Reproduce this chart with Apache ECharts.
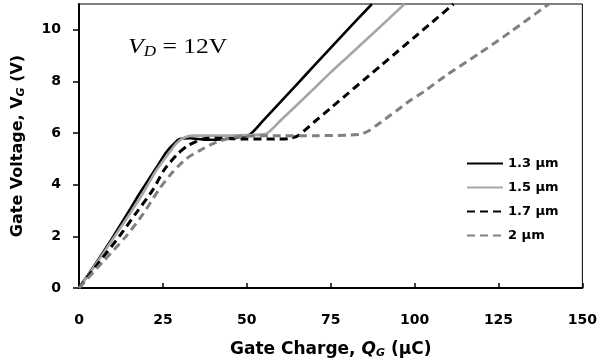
<!DOCTYPE html>
<html><head><meta charset="utf-8">
<script src="https://cdn.jsdelivr.net/npm/echarts@6/dist/echarts.min.js"></script>
<style>html,body{margin:0;padding:0;background:#fff}#c{width:600px;height:364px}</style>
</head><body><div id="c"></div>
<script>
const xTicks = [0, 25, 50, 75, 100, 125, 150];
const yTicks = [0, 2, 4, 6, 8, 10];
const seriesNames = ['1.3 µm', '1.5 µm', '1.7 µm', '2 µm'];
const s13 = [[0,0],[5,0.95],[10,1.95],[15,3.0],[18,3.65],[21,4.25],[23.5,4.75],[26,5.26],[28,5.55],[30,5.77],[33,5.8],[38,5.74],[43,5.76],[48,5.85],[51,5.95],[55,6.5],[60,7.2],[65,7.9],[70,8.6],[75,9.3],[80,10.0],[87.3,11]];
const s15 = [[0,0],[5,0.92],[10,1.88],[15,2.85],[19,3.65],[23,4.55],[27,5.26],[29,5.6],[31.4,5.83],[34,5.9],[40,5.9],[50,5.92],[55.6,5.96],[57.5,6.15],[60,6.48],[65,7.1],[70,7.72],[75,8.35],[80,8.95],[85,9.55],[90,10.15],[97,11]];
const s17 = [[0,0],[6,1.0],[12,2.0],[17,2.9],[22,3.8],[25.5,4.6],[29.4,5.19],[32.4,5.51],[36.9,5.77],[41,5.8],[50,5.77],[60,5.77],[63,5.8],[65.5,5.92],[70,6.42],[75,6.97],[80,7.52],[85,8.07],[90,8.62],[95,9.17],[100,9.72],[105,10.27],[111.6,11]];
const s20 = [[0,0],[7,1.0],[14,2.0],[19,2.85],[24,3.85],[28,4.5],[31.9,5.0],[35.9,5.32],[40.8,5.64],[45.7,5.83],[50,5.88],[60,5.9],[70,5.9],[80,5.92],[84,5.96],[86.5,6.1],[89,6.33],[91.2,6.54],[96.2,7.02],[99.1,7.3],[103,7.63],[109,8.2],[118.9,9.05],[128.8,9.94],[140,11]];

const styles = [
  {color:'#000000', type:'solid', width:2.6},
  {color:'#a6a6a6', type:'solid', width:2.6},
  {color:'#000000', type:[8,5], width:3},
  {color:'#808080', type:[8,5], width:3}
];
const datas = [s13, s15, s17, s20];
const font = 'DejaVu Sans';
const chart = echarts.init(document.getElementById('c'), null, {renderer:'canvas'});
chart.setOption({
  animation:false,
  backgroundColor:'#ffffff',
  grid:{left:79, right:15, top:4, bottom:74, show:true, borderColor:'#000', borderWidth:1, backgroundColor:'transparent'},
  legend:{
    orient:'vertical', left:466, top:157, padding:0, itemWidth:36, itemHeight:14, itemGap:11,
    data:seriesNames,
    itemStyle:{opacity:0},
    textStyle:{fontFamily:font, fontWeight:'bold', fontSize:13, color:'#000'}
  },
  xAxis:{
    type:'value', min:0, max:150, interval:25,
    axisLine:{lineStyle:{color:'#000', width:2}},
    axisTick:{inside:true, length:5, lineStyle:{color:'#000', width:1.5}},
    axisLabel:{margin:25, fontFamily:font, fontWeight:'bold', fontSize:14, color:'#000', customValues:xTicks},
    splitLine:{show:false},
    name:'{n|Gate Charge, }{i|Q}{s|G}{n| (µC)}', nameLocation:'middle', nameGap:52,
    nameTextStyle:{rich:{
      n:{fontFamily:font, fontWeight:'bold', fontSize:17, color:'#000'},
      i:{fontFamily:font, fontWeight:'bold', fontStyle:'italic', fontSize:17, color:'#000'},
      s:{fontFamily:font, fontWeight:'bold', fontStyle:'italic', fontSize:11, color:'#000', verticalAlign:'bottom', padding:[8,0,0,0]}
    }}
  },
  yAxis:{
    type:'value', min:0, max:11, interval:2,
    axisLine:{lineStyle:{color:'#000', width:2}},
    axisTick:{inside:false, length:6, lineStyle:{color:'#000', width:1.5}, customValues:yTicks},
    axisLabel:{margin:18, fontFamily:font, fontWeight:'bold', fontSize:14, color:'#000', customValues:yTicks},
    splitLine:{show:false},
    name:'{n|Gate Voltage, }{i|V}{s|G}{n| (V)}', nameLocation:'middle', nameGap:52, nameRotate:90,
    nameTextStyle:{rich:{
      n:{fontFamily:font, fontWeight:'bold', fontSize:16, color:'#000'},
      i:{fontFamily:font, fontWeight:'bold', fontSize:16, color:'#000'},
      s:{fontFamily:font, fontWeight:'bold', fontStyle:'italic', fontSize:11, color:'#000', verticalAlign:'bottom', padding:[7,0,0,0]}
    }}
  },
  graphic:[{
    type:'text', left:128, top:37, z:100, scaleX:1.22, originX:0,
    style:{
      text:'{v|V}{d|D}{r| = 12V}',
      rich:{
        v:{fontFamily:'Liberation Serif', fontStyle:'italic', fontSize:21, fill:'#000'},
        d:{fontFamily:'Liberation Serif', fontStyle:'italic', fontSize:14, fill:'#000', verticalAlign:'bottom', padding:[9,0,0,0]},
        r:{fontFamily:'Liberation Serif', fontSize:21, fill:'#000'}
      }
    }
  }],
  series: datas.map((d,i)=>({
    name:seriesNames[i], type:'line', data:d, symbol:'none', showSymbol:false,
    smooth:0.25, clip:true,
    lineStyle:{color:styles[i].color, width:styles[i].width, type:styles[i].type, cap:'butt'},
    itemStyle:{color:styles[i].color}
  }))
});
</script></body></html>
